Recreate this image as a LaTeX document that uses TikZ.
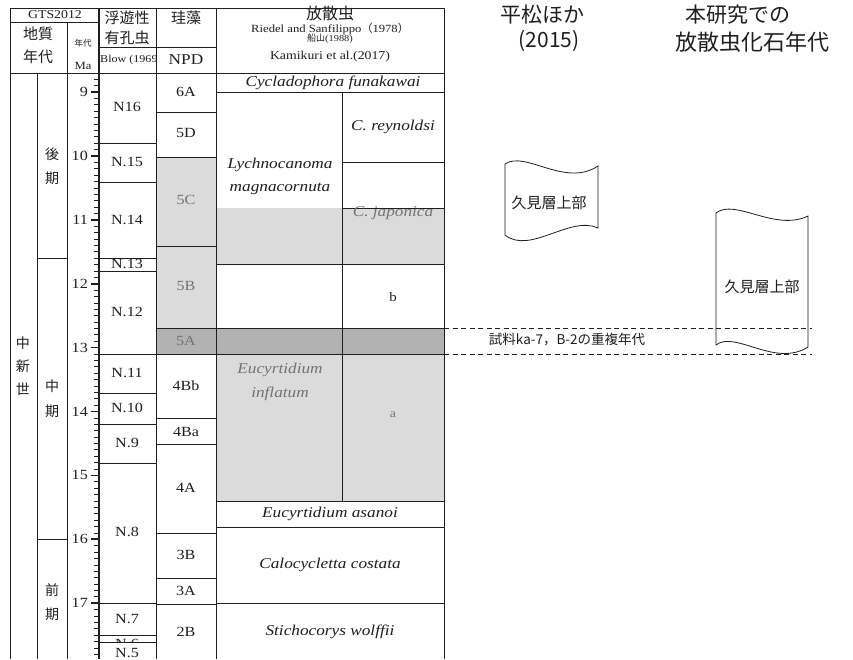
\documentclass[tikz,border=0pt]{standalone}
\usepackage{fontspec}
\setmainfont[FakeStretch=1.15]{Liberation Serif}
\newfontfamily\jp{Noto Sans CJK JP}
\newcommand\fsz[1]{\fontsize{#1}{#1}\selectfont}
\definecolor{lg}{gray}{0.86}
\definecolor{dg}{gray}{0.70}
\definecolor{ink}{gray}{0.12}
\definecolor{faint}{gray}{0.45}
\begin{document}
\begin{tikzpicture}[x=1pt,y=-1pt,
  tl/.style={line width=0.9pt, draw=ink},
  tlthick/.style={line width=1.3pt, draw=ink},
  t/.style={inner sep=0pt, text=ink, anchor=center},
  tg/.style={inner sep=0pt, text=faint, anchor=center},
  nz/.style={t, font=\fsz{14}},
  nzg/.style={tg, font=\fsz{14}},
  rad/.style={t, font=\fsz{15}\itshape},
  radg/.style={tg, font=\fsz{15}\itshape},
  jpt/.style={t, font=\jp\fsz{14}},
  rt/.style={t, font=\jp\fsz{21}},
  flag/.style={line width=0.8pt, draw=ink},
  dline/.style={line width=0.8pt, draw=ink, dash pattern=on 5pt off 3.5pt}]
\useasboundingbox[fill=white] (0,0) rectangle (853,659);

% ---------- shading ----------
\fill[lg] (156,157) rectangle (216,328);
\fill[lg] (216,208) rectangle (444,264);
\fill[lg] (216,354) rectangle (444,501);
\fill[dg] (156,328) rectangle (444,354);

% ---------- horizontal lines ----------
\draw[tl] (10,8) -- (444,8);
\draw[tl] (10,22) -- (99,22);
\draw[tl] (99,47) -- (216,47);
\draw[tl] (10,73) -- (444,73);
% age
\foreach \y in {258,539} \draw[tl] (37,\y) -- (67,\y);
% planktonic foraminifera
\foreach \y in {143,182,258,271,354.5,393,424,463,603,635,642} \draw[tl] (99,\y) -- (156,\y);
% diatoms
\foreach \y in {112,157,246,328,354.5,418,444,533,578,604} \draw[tl] (156,\y) -- (216,\y);
% radiolaria
\foreach \y in {92,264,328,354.5,501,527,603} \draw[tl] (216,\y) -- (444,\y);
\foreach \y in {162,208} \draw[tl] (342,\y) -- (444,\y);

% ---------- vertical lines ----------
\foreach \x in {10,156,216,444} \draw[tl] (\x,8) -- (\x,659);
\draw[tl] (67,22) -- (67,659);
\draw[tlthick] (99,8) -- (99,659);
\draw[tl] (37,73) -- (37,659);
\draw[tl] (342,92) -- (342,501);

% ---------- Ma ticks ----------
\foreach \i in {88,...,178}{
  \pgfmathsetmacro\yy{92+(\i-90)*6.39}
  \pgfmathtruncatemacro\md{mod(\i,10)}
  \ifnum\md=0
    \draw[line width=1.7pt, ink] (91,\yy) -- (99,\yy);
  \else
    \draw[line width=0.7pt, ink] (93.5,\yy) -- (99,\yy);
  \fi
}
\foreach \m in {9,...,17}
  \node[t, font=\fsz{14}, anchor=east] (ma\m) at (88,{92+(\m-9)*63.9}) {\m};

% ---------- header ----------
\node[t, font=\fsz{12}] (gts) at (55,15) {GTS2012};
\node[t, font=\jp\fsz{15}] (chishitsu) at (38,34) {地質};
\node[t, font=\jp\fsz{15}] (nendai) at (38,57) {年代};
\node[t, font=\jp\fsz{8.5}] (nendaismall) at (83,43) {年代};
\node[t, font=\fsz{11}] (ma) at (83,66) {Ma};
\node[t, font=\jp\fsz{15}] (fuyu) at (127,18) {浮遊性};
\node[t, font=\jp\fsz{15}] (yuko) at (127,38) {有孔虫};
\begin{scope}
\clip (99,47) rectangle (156,73);
\node[t, font=\fsz{10.5}, anchor=west] (blow) at (100,60) {Blow (1969)};
\end{scope}
\node[t, font=\jp\fsz{15}] (keiso) at (186,18) {珪藻};
\node[t, font=\fsz{15}] (npd) at (186,60) {NPD};
\node[t, font=\jp\fsz{16}] (hosan) at (330,13) {放散虫};
\node[t, font=\fsz{11}] (riedel) at (330,28.5) {Riedel and Sanfilippo{\jp （}1978{\jp ）}};
\node[t, font=\fsz{9}] (funa) at (330,39) {{\jp 船山}(1988)};
\node[t, font=\fsz{12}] (kami) at (330,57) {Kamikuri et al.(2017)};

% ---------- epoch / age ----------
\node[jpt] (e1) at (23,343) {中};
\node[jpt] (e2) at (23,366) {新};
\node[jpt] (e3) at (23,389) {世};
\node[jpt] (k1) at (52,154) {後};
\node[jpt] (k2) at (52,178) {期};
\node[jpt] (c1) at (52,386) {中};
\node[jpt] (c2) at (52,411) {期};
\node[jpt] (z1) at (52,590) {前};
\node[jpt] (z2) at (52,614) {期};

% ---------- planktonic foraminifera ----------
\node[nz] (n16) at (127,107) {N16};
\node[nz] (n15) at (127,162) {N.15};
\node[nz] (n14) at (127,220) {N.14};
\begin{scope}
\clip (99,258.5) rectangle (156,271);
\node[nz] (n13) at (127,264) {N.13};
\end{scope}
\node[nz] (n12) at (127,312) {N.12};
\node[nz] (n11) at (127,373) {N.11};
\node[nz] (n10) at (127,408) {N.10};
\node[nz] (n9) at (127,443) {N.9};
\node[nz] (n8) at (127,532) {N.8};
\node[nz] (n7) at (127,619) {N.7};
\begin{scope}
\clip (99,635.5) rectangle (156,641.5);
\node[nz] (n6) at (127,644) {N.6};
\end{scope}
\begin{scope}
\clip (99,642.5) rectangle (156,659);
\node[nz] (n5) at (127,653) {N.5};
\end{scope}

% ---------- diatoms ----------
\node[nz] (d6a) at (186,92) {6A};
\node[nz] (d5d) at (186,133) {5D};
\node[nzg] (d5c) at (186,200) {5C};
\node[nzg] (d5b) at (186,286) {5B};
\node[nzg] (d5a) at (186,341) {5A};
\node[nz] (d4bb) at (186,386) {4Bb};
\node[nz] (d4ba) at (186,432) {4Ba};
\node[nz] (d4a) at (186,488) {4A};
\node[nz] (d3b) at (186,555) {3B};
\node[nz] (d3a) at (186,591) {3A};
\node[nz] (d2b) at (186,632) {2B};

% ---------- radiolaria ----------
\node[rad] (cfun) at (333,83) {Cycladophora funakawai};
\node[rad] (crey) at (393,127) {C. reynoldsi};
\node[rad] (lych) at (280,165) {Lychnocanoma};
\node[rad] (magn) at (280,189) {magnacornuta};
\node[radg] (cjap) at (393,213) {C. japonica};
\node[t, font=\fsz{13}] (rb) at (393,297) {b};
\node[radg] (eucy) at (280,370) {Eucyrtidium};
\node[radg] (infl) at (280,394) {inflatum};
\node[tg, font=\fsz{12}] (ra) at (393,415) {a};
\node[rad] (easa) at (330,514) {Eucyrtidium asanoi};
\node[rad] (ccos) at (330,565) {Calocycletta costata};
\node[rad] (swol) at (330,632) {Stichocorys wolffii};

% ---------- right side ----------
\node[rt] (hira1) at (542,15) {平松ほか};
\node[rt] (hira2) at (549,41) {(2015)};
\node[rt] (hon1) at (738,15) {本研究での};
\node[rt, font=\jp\fsz{22}] (hon2) at (752,42) {放散虫化石年代};

\coordinate (dl1s) at (444,328);
\coordinate (dl1e) at (812,328);
\coordinate (dl2s) at (444,354);
\coordinate (dl2e) at (812,354);
\draw[dline] (dl1s) -- (dl1e);
\draw[dline] (dl2s) -- (dl2e);
\node[t, font=\jp\fsz{13.5}] (overlap) at (567,340) {試料ka-7，B-2の重複年代};

\draw[flag] (505,164) .. controls (525,150) and (565,188) .. (598,166)
  -- (598,228) .. controls (570,215) and (530,255) .. (505,235) -- cycle;
\node[t, font=\jp\fsz{15}] (kumi1) at (549,203) {久見層上部};

\draw[flag] (716,213) .. controls (735,198) and (775,232) .. (808,216)
  -- (808,347) .. controls (775,368) and (735,330) .. (716,345) -- cycle;
\node[t, font=\jp\fsz{15}] (kumi2) at (762,287) {久見層上部};
\end{tikzpicture}
\end{document}
